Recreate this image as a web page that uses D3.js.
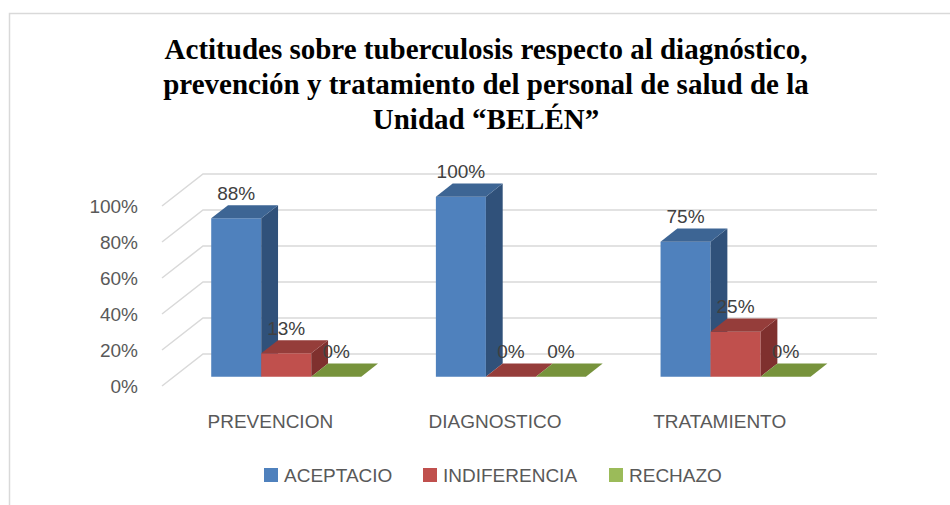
<!DOCTYPE html>
<html><head><meta charset="utf-8">
<script src="https://cdn.jsdelivr.net/npm/d3@7"></script>
<style>html,body{margin:0;padding:0;background:#fff;}svg{display:block;}</style>
</head><body>
<svg id="chart" width="950" height="505"></svg>
<script>
const titleLines = ["Actitudes sobre tuberculosis respecto al diagnóstico,", "prevención y tratamiento del personal de salud de la", "Unidad “BELÉN”"];
const categories = ["PREVENCION", "DIAGNOSTICO", "TRATAMIENTO"];
const seriesNames = ["ACEPTACIO", "INDIFERENCIA", "RECHAZO"];
const aceptacio = [0.88, 1.00, 0.75];
const indiferencia = [0.13, 0.00, 0.25];
const rechazo = [0.00, 0.00, 0.00];
const tickValues = [0, 0.2, 0.4, 0.6, 0.8, 1.0];
const tickLabels = ["0%", "20%", "40%", "60%", "80%", "100%"];

const seriesValues = [aceptacio, indiferencia, rechazo];
const colors = [
  {front:"#4f81bd", top:"#3d6594", side:"#30517a", legend:"#4f81bd"},
  {front:"#c0504d", top:"#953d3a", side:"#7f302e", legend:"#c0504d"},
  {front:"#9bbb59", top:"#77933c", side:"#5f7830", legend:"#9bbb59"}
];

const svg = d3.select("#chart");
const FONT = "'Liberation Sans', Arial, sans-serif";
const DX = 41, DY = 32;
const proj = (x, y, z) => [x + z*DX, y - z*DY];

// chart border
svg.append("path").attr("d","M9.5,505 L9.5,13.5 L950,13.5")
  .attr("fill","none").attr("stroke","#d9d9d9").attr("stroke-width",1.5);

// title
const title = svg.append("text").attr("x",486).attr("y",58)
  .attr("text-anchor","middle").attr("font-family","'Liberation Serif','Times New Roman',serif")
  .attr("font-weight","bold").attr("font-size",29).attr("fill","#000");
titleLines.forEach((t,i)=>title.append("tspan").attr("x",486).attr("y",59+i*35).text(t));

const y = d3.scaleLinear().domain([0,1]).range([386,206]);
const x0 = d3.scaleBand().domain(categories).range([162,836]).paddingInner(0.3323).paddingOuter(0.16615);
const x1 = d3.scaleBand().domain(seriesNames).range([0, x0.bandwidth()]);

// gridlines (side wall diagonals + back wall lines)
const grid = svg.append("g").attr("stroke","#d9d9d9").attr("stroke-width",1.5).attr("fill","none");
tickValues.forEach(v=>{
  const a = [162, y(v)], b = proj(162, y(v), 1), c = proj(836, y(v), 1);
  grid.append("path").attr("d", `M${a[0]},${a[1]} L${b[0]},${b[1]} L${c[0]},${c[1]}`);
});

// y tick labels
svg.append("g").selectAll("text").data(tickValues).join("text")
  .attr("x",138).attr("y",d=>y(d)).attr("dy","0.35em")
  .attr("text-anchor","end").attr("font-family",FONT).attr("font-size",19).attr("fill","#595959")
  .text((d,i)=>tickLabels[i]);

// bars
const Z0 = 0.29, Z1 = 0.70;
const poly = pts => "M" + pts.map(p=>p.join(",")).join("L") + "Z";
const bars = svg.append("g");
const labels = [];
categories.forEach((cat, ci)=>{
  seriesNames.forEach((s, si)=>{
    const v = seriesValues[si][ci];
    const xl = x0(cat) + x1(s), xr = xl + x1.bandwidth();
    const yb = y(0), yt = y(v);
    const fbl = proj(xl,yb,Z0), fbr = proj(xr,yb,Z0), ftl = proj(xl,yt,Z0), ftr = proj(xr,yt,Z0);
    const bbr = proj(xr,yb,Z1), btl = proj(xl,yt,Z1), btr = proj(xr,yt,Z1);
    const c = colors[si];
    if (v > 0) {
      bars.append("path").attr("d", poly([fbl,fbr,ftr,ftl])).attr("fill", c.front);
      bars.append("path").attr("d", poly([fbr,bbr,btr,ftr])).attr("fill", c.side);
    }
    bars.append("path").attr("d", poly([ftl,ftr,btr,btl])).attr("fill", c.top);
    labels.push({x:(ftl[0]+ftr[0])/2, y:btl[1]-12, t:Math.round(v*100)+"%"});
  });
});

// data labels
svg.append("g").selectAll("text").data(labels).join("text")
  .attr("x",d=>d.x).attr("y",d=>d.y).attr("dy","0.35em").attr("text-anchor","middle")
  .attr("font-family",FONT).attr("font-size",19).attr("fill","#404040").text(d=>d.t);

// category labels
svg.append("g").selectAll("text").data(categories).join("text")
  .attr("x",d=>x0(d)+x0.bandwidth()/2-4).attr("y",421).attr("dy","0.35em").attr("text-anchor","middle")
  .attr("font-family",FONT).attr("font-size",19).attr("fill","#595959").text(d=>d);

// legend
const legendX = [264, 423, 609];
const lg = svg.append("g");
seriesNames.forEach((s,i)=>{
  lg.append("rect").attr("x",legendX[i]).attr("y",468).attr("width",14).attr("height",14).attr("fill",colors[i].legend);
  lg.append("text").attr("x",legendX[i]+20).attr("y",475).attr("dy","0.35em")
    .attr("font-family",FONT).attr("font-size",19).attr("fill","#595959").text(s);
});
</script>
</body></html>
